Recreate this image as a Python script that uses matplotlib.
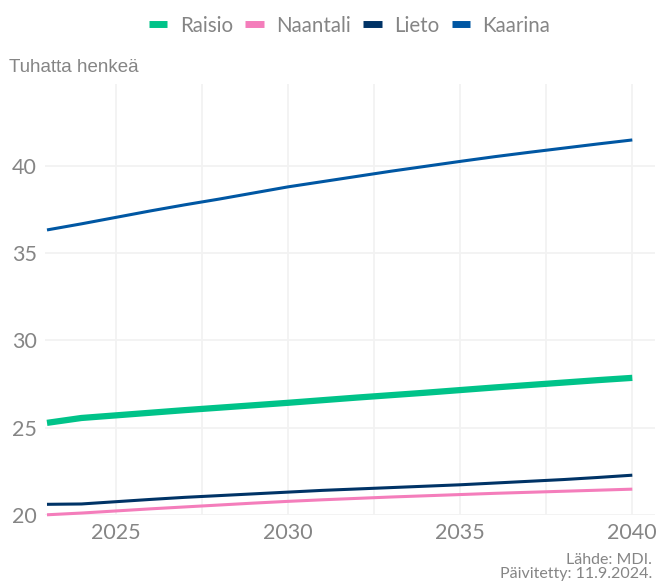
import matplotlib
matplotlib.use('Agg')
import matplotlib.pyplot as plt
from matplotlib.ticker import MultipleLocator

# Population projection (thousands of people)
years = list(range(2023, 2041))
raisio = [25.27, 25.55, 25.70, 25.85, 26.00, 26.14, 26.28, 26.42, 26.57,
          26.72, 26.86, 27.00, 27.15, 27.30, 27.44, 27.58, 27.72, 27.85]
naantali = [20.00, 20.10, 20.22, 20.34, 20.45, 20.56, 20.67, 20.77, 20.86,
            20.94, 21.02, 21.09, 21.16, 21.23, 21.29, 21.35, 21.41, 21.47]
lieto = [20.60, 20.62, 20.75, 20.88, 21.00, 21.10, 21.20, 21.30, 21.40,
         21.48, 21.56, 21.64, 21.72, 21.82, 21.92, 22.02, 22.14, 22.27]
kaarina = [36.33, 36.68, 37.05, 37.42, 37.77, 38.10, 38.45, 38.80, 39.10,
           39.40, 39.70, 39.98, 40.26, 40.53, 40.78, 41.02, 41.26, 41.49]

series = [
    ('Raisio', raisio, '#00c389', 4.5),
    ('Naantali', naantali, '#f47dbb', 2.2),
    ('Lieto', lieto, '#003366', 2.2),
    ('Kaarina', kaarina, '#0057a3', 2.2),
]

grey = '#858585'

fig = plt.figure(figsize=(6.56, 5.83), dpi=100)
ax = fig.add_axes([0.069, 0.117, 0.929, 0.739])

for name, vals, color, lw in series:
    ax.plot(years, vals, color=color, linewidth=lw, label=name,
            solid_capstyle='butt', clip_on=False, zorder=3)

ax.set_xlim(2022.95, 2040.65)
ax.set_ylim(20, 44.7)
ax.xaxis.set_major_locator(MultipleLocator(5))
ax.xaxis.set_minor_locator(MultipleLocator(2.5))
ax.set_yticks([20, 25, 30, 35, 40])
ax.grid(which='major', color='#f2f2f2', linewidth=1.3)
ax.grid(which='minor', axis='x', color='#f2f2f2', linewidth=1.3)
ax.set_axisbelow(True)
for s in ax.spines.values():
    s.set_visible(False)
ax.tick_params(which='both', length=0, colors=grey, labelsize=15.5, pad=6)
for lab in ax.get_xticklabels() + ax.get_yticklabels():
    lab.set_family('Lato')

fig.text(0.014, 0.885, 'Tuhatta henkeä', fontsize=13.5, color=grey,
         family='Liberation Sans', ha='left', va='center')

fig.legend(loc='upper center', bbox_to_anchor=(0.533, 1.005), ncol=4,
           frameon=False, handlelength=0.9, handletextpad=0.6,
           columnspacing=0.6, prop={'family': 'Lato', 'size': 14.8},
           labelcolor=grey)
for h in fig.legends[0].legend_handles:
    h.set_linewidth(5)

fig.text(0.994, 0.003, 'Lähde: MDI.\nPäivitetty: 11.9.2024.', fontsize=11.5,
         color=grey, family='Lato', ha='right', va='bottom', linespacing=1.05)

fig.savefig('out.png', dpi=100)
